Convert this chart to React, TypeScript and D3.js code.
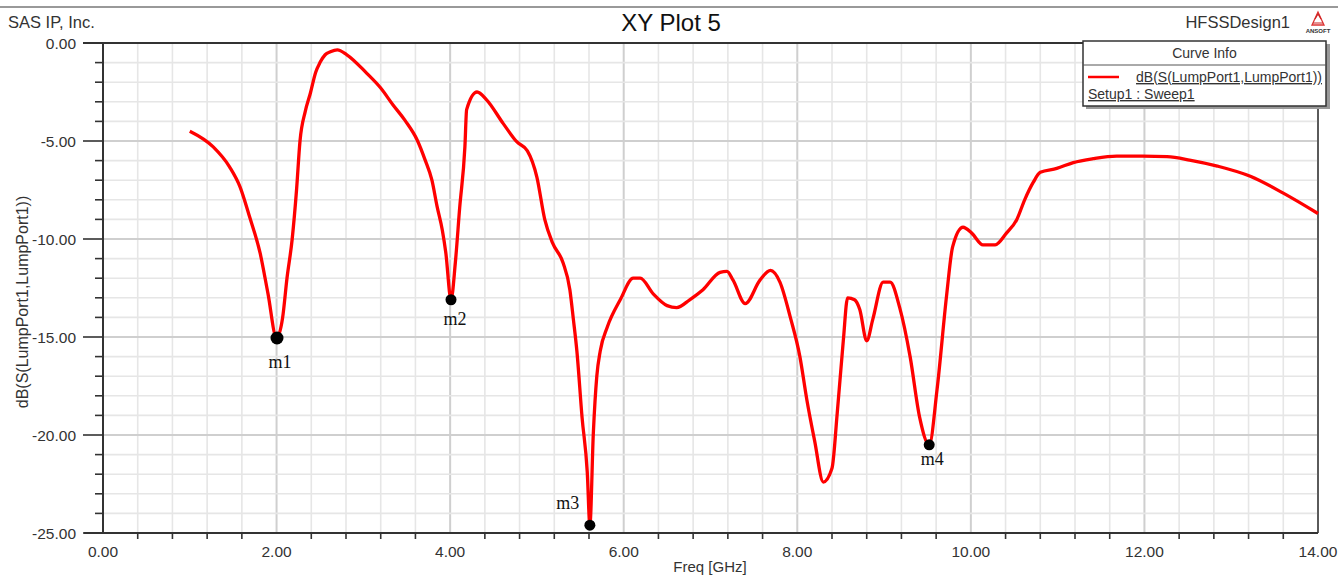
import React from "react";
import * as d3 from "d3";

// ---- data ----
const freqGHz: number[] = [
  1.0, 1.27, 1.46, 1.58, 1.69, 1.81, 1.9, 2.0, 2.07, 2.12, 2.18, 2.23, 2.27, 2.33, 2.39, 2.45, 2.5, 2.56,
  2.62, 2.7, 2.81, 3.04, 3.2, 3.34, 3.48, 3.62, 3.71, 3.79, 3.85, 3.91, 3.95, 4.01, 4.06, 4.11, 4.17,
  4.19, 4.31, 4.42, 4.61, 4.77, 4.89, 5.0, 5.09, 5.18, 5.3, 5.38, 5.42, 5.46, 5.52, 5.58, 5.61, 5.65,
  5.69, 5.73, 5.81, 5.96, 6.11, 6.19, 6.34, 6.5, 6.61, 6.76, 6.91, 7.11, 7.19, 7.26, 7.4, 7.57, 7.69,
  7.8, 7.92, 8.03, 8.11, 8.2, 8.3, 8.4, 8.46, 8.53, 8.58, 8.66, 8.72, 8.8, 8.87, 8.99, 9.07, 9.18, 9.3,
  9.41, 9.52, 9.61, 9.72, 9.79, 9.91, 10.01, 10.14, 10.28, 10.41, 10.53, 10.62, 10.72, 10.8, 10.99,
  11.18, 11.41, 11.68, 11.98, 12.26, 12.52, 12.84, 13.22, 13.6, 14.0,
];
const s11dB: number[] = [
  -4.5, -5.3, -6.33, -7.35, -8.88, -10.71, -12.76, -15.05, -14.0, -12.0, -10.0, -7.5, -5.0, -3.5, -2.55,
  -1.5, -1.0, -0.6, -0.45, -0.35, -0.6, -1.55, -2.3, -3.15, -3.95, -4.95, -5.95, -7.0, -8.35, -9.55,
  -10.7, -13.1, -11.2, -8.4, -5.3, -3.4, -2.5, -2.9, -4.1, -5.05, -5.5, -6.85, -9.0, -10.2, -11.2,
  -12.6, -14.1, -15.7, -19.1, -21.9, -24.6, -19.9, -17.0, -15.7, -14.5, -13.1, -12.0, -12.0, -12.8,
  -13.4, -13.5, -13.1, -12.6, -11.7, -11.65, -12.1, -13.3, -12.1, -11.6, -12.2, -14.0, -16.0, -18.2,
  -20.3, -22.4, -21.7, -18.9, -15.2, -13.0, -13.1, -13.6, -15.2, -14.1, -12.2, -12.2, -13.5, -16.0,
  -19.1, -20.5, -17.7, -12.9, -10.4, -9.4, -9.7, -10.3, -10.3, -9.7, -9.0, -8.0, -7.1, -6.6, -6.4,
  -6.1, -5.9, -5.77, -5.77, -5.8, -5.97, -6.28, -6.8, -7.66, -8.7,
];

const markerNames: string[] = ["m1", "m2", "m3", "m4"];
const markerFreq: number[] = [2.005, 4.01, 5.61, 9.52];
const markerDB: number[] = [-15.05, -13.1, -24.6, -20.5];

const xTickLabels: number[] = [0, 2, 4, 6, 8, 10, 12, 14];
const yTickLabels: number[] = [0, -5, -10, -15, -20, -25];

const title = "XY Plot 5";
const company = "SAS IP, Inc.";
const design = "HFSSDesign1";
const xTitle = "Freq [GHz]";
const yTitle = "dB(S(LumpPort1,LumpPort1))";
const legendTitle = "Curve Info";
const seriesName = "dB(S(LumpPort1,LumpPort1))";
const setupName = "Setup1 : Sweep1";

// ---- layout ----
const W = 1338;
const H = 575;
const L = 103;
const R = 1318;
const T = 43;
const B = 533;
const SANS = "'Liberation Sans', Arial, sans-serif";
const SERIF = "'Liberation Serif', 'Times New Roman', serif";
const TXT = "#333";

// label offsets for markers (dx, dy)
const markerLabelOffsets: [number, number][] = [
  [3, 30],
  [4, 25],
  [-22, -16],
  [3, 20],
];

export default function App() {
  const x = d3.scaleLinear().domain([0, 14]).range([L, R]);
  const y = d3.scaleLinear().domain([-25, 0]).range([B, T]);

  const minorX = d3.range(0, 35 + 1).map((i) => +(i * 0.4).toFixed(2));
  const minorY = d3.range(0, 26).map((i) => -i);

  const pts = freqGHz.map((f, i) => [f, s11dB[i]] as [number, number]);
  const line = d3
    .line<[number, number]>()
    .x((d) => x(d[0]))
    .y((d) => y(d[1]))
    .curve(d3.curveMonotoneX);

  const isMajorX = (v: number) => Math.abs(v / 2 - Math.round(v / 2)) < 1e-6;
  const isMajorY = (v: number) => Math.abs(v / 5 - Math.round(v / 5)) < 1e-6;

  return (
    <svg
      width={W}
      height={H}
      style={{ position: "absolute", left: 0, top: 0, background: "#fff" }}
      fontFamily={SANS}
    >
      <rect x={0} y={0} width={W} height={H} fill="#fff" />
      {/* top border */}
      <line x1={0} x2={W} y1={7} y2={7} stroke="#777" strokeWidth={1.5} />

      {/* header texts */}
      <text x={8} y={28} fontSize={16.5} fill={TXT}>
        {company}
      </text>
      <text x={671} y={31} fontSize={24} fill="#111" textAnchor="middle">
        {title}
      </text>
      <text x={1290} y={28} fontSize={16.5} fill={TXT} textAnchor="end">
        {design}
      </text>
      {/* Ansoft logo */}
      <g transform="translate(1318,12)">
        <path d="M0,0 L-6,13 L6,13 Z" fill="none" stroke="#d33" strokeWidth={1.3} />
        <path d="M-3,7 L0,2 L3,7 M-5,11 L5,11" fill="none" stroke="#c22" strokeWidth={1.2} />
        <text x={0} y={21} fontSize={6} fontWeight="bold" textAnchor="middle" fill="#333">
          ANSOFT
        </text>
      </g>

      {/* grid */}
      {minorX.map((v) => (
        <line
          key={"gx" + v}
          x1={x(v)}
          x2={x(v)}
          y1={T}
          y2={B}
          stroke={isMajorX(v) ? "#cfcfcf" : "#e6e6e6"}
          strokeWidth={isMajorX(v) ? 2 : 1.6}
        />
      ))}
      {minorY.map((v) => (
        <line
          key={"gy" + v}
          x1={L}
          x2={R}
          y1={y(v)}
          y2={y(v)}
          stroke={isMajorY(v) ? "#cfcfcf" : "#e6e6e6"}
          strokeWidth={isMajorY(v) ? 2 : 1.6}
        />
      ))}

      {/* axis frame */}
      <line x1={L} x2={L} y1={T} y2={B} stroke="#333" strokeWidth={2} />
      <line x1={R} x2={R} y1={T} y2={B} stroke="#333" strokeWidth={1.5} />
      <line x1={83} x2={R} y1={T} y2={T} stroke="#333" strokeWidth={2} />
      <line x1={84} x2={R} y1={B} y2={B} stroke="#333" strokeWidth={2} />

      {/* y ticks */}
      {minorY.map((v) => (
        <line
          key={"ty" + v}
          x1={isMajorY(v) ? 83 : 95}
          x2={L}
          y1={y(v)}
          y2={y(v)}
          stroke="#333"
          strokeWidth={1.6}
        />
      ))}
      {yTickLabels.map((v) => (
        <text key={"yl" + v} x={76} y={y(v) + 6} fontSize={15.5} fill={TXT} textAnchor="end">
          {v.toFixed(2)}
        </text>
      ))}

      {/* x ticks */}
      {minorX
        .filter((v) => !isMajorX(v))
        .map((v) => (
          <line key={"tx" + v} x1={x(v)} x2={x(v)} y1={B} y2={B + 6} stroke="#333" strokeWidth={1.6} />
        ))}
      {xTickLabels.map((v) => (
        <text key={"xl" + v} x={x(v)} y={557} fontSize={15.5} fill={TXT} textAnchor="middle">
          {v.toFixed(2)}
        </text>
      ))}

      {/* axis titles */}
      <text x={710} y={572} fontSize={15} fill={TXT} textAnchor="middle">
        {xTitle}
      </text>
      <text
        transform={`translate(28,${(T + B) / 2 + 14}) rotate(-90)`}
        fontSize={16}
        fill={TXT}
        textAnchor="middle"
      >
        {yTitle}
      </text>

      {/* curve */}
      <path d={line(pts) || ""} fill="none" stroke="#ff0000" strokeWidth={3.3} strokeLinejoin="round" />

      {/* markers */}
      {markerNames.map((name, i) => {
        const cx = x(markerFreq[i]);
        const cy = y(markerDB[i]);
        const [dx, dy] = markerLabelOffsets[i];
        return (
          <g key={name}>
            <circle cx={cx} cy={cy} r={i === 0 ? 6.5 : 5.5} fill="#000" />
            <text x={cx + dx} y={cy + dy} fontSize={18} fontFamily={SERIF} fill="#111" textAnchor="middle">
              {name}
            </text>
          </g>
        );
      })}

      {/* legend */}
      <rect x={1086} y={44} width={244} height={65} fill="#999" />
      <rect x={1083} y={41} width={243} height={65} fill="#fff" stroke="#333" strokeWidth={1.5} />
      <line x1={1083} x2={1326} y1={65} y2={65} stroke="#555" strokeWidth={1} />
      <text x={1204.5} y={58} fontSize={14} fill={TXT} textAnchor="middle">
        {legendTitle}
      </text>
      <line x1={1088} x2={1119} y1={77} y2={77} stroke="#ff0000" strokeWidth={2.5} />
      <text x={1322} y={82} fontSize={14} fill={TXT} textAnchor="end" textDecoration="underline">
        {seriesName}
      </text>
      <text x={1088} y={99} fontSize={14} fill={TXT} textDecoration="underline">
        {setupName}
      </text>
    </svg>
  );
}
